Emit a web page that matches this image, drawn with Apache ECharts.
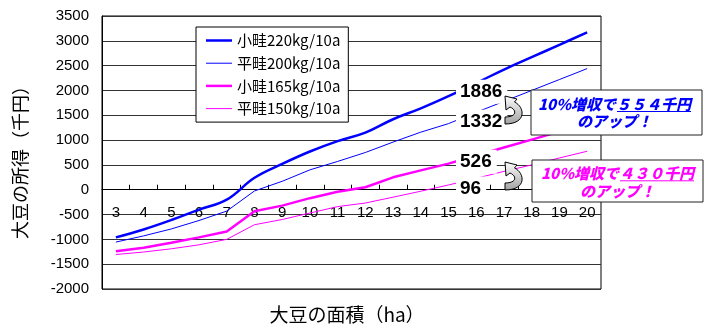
<!DOCTYPE html>
<html><head><meta charset="utf-8">
<script src="https://cdn.jsdelivr.net/npm/echarts@6/dist/echarts.min.js"></script>
<style>html,body{margin:0;padding:0;background:#fff}#c{width:709px;height:326px}</style>
</head><body><div id="c"></div>
<script>
// ---- data ----
const categories = ['3','4','5','6','7','8','9','10','11','12','13','14','15','16','17','18','19','20'];
const seriesNames = ['小畦220kg/10a','平畦200kg/10a','小畦165kg/10a','平畦150kg/10a'];
const ridge220 = [-960,-800,-610,-400,-200,240,520,770,980,1150,1420,1640,1886,2150,2420,2670,2920,3170];
const flat200  = [-1055,-930,-790,-620,-430,-25,170,400,570,750,960,1160,1332,1560,1780,2000,2220,2440];
const ridge165 = [-1240,-1170,-1070,-960,-840,-435,-320,-170,-40,50,250,390,526,690,850,1010,1170,1330];
const flat150  = [-1305,-1255,-1190,-1110,-1000,-705,-600,-470,-340,-268,-150,-30,96,230,370,500,640,775];
const yMin = -2000, yMax = 3500, yStep = 500;
const valueLabels = ['1886','1332','526','96'];
const callouts = [
  {pre:'10%増収で', amt:'５５４千円', line2:'のアップ！'},
  {pre:'10%増収で', amt:'４３０千円', line2:'のアップ！'}
];
const yTitle = '大豆の所得（千円）';
const xTitle = '大豆の面積（ha）';

// ---- layout ----
const GRID = {left:102, right:108, top:16, bottom:37};
const H = 326;
const plotH = H - GRID.top - GRID.bottom;
const zeroOffset = -(yMin / (yMax - yMin)) * plotH; // distance from bottom edge up to value 0

const BLUE = '#0000FF', PINK = '#FF00FF';
const cv = document.createElement('canvas').getContext('2d');
function tw(t, font){ cv.font = font; return cv.measureText(t).width; }
function bez(p0,p1,p2,p3,n){
  const out=[];
  for(let i=1;i<=n;i++){const t=i/n,u=1-t;
    out.push([u*u*u*p0[0]+3*u*u*t*p1[0]+3*u*t*t*p2[0]+t*t*t*p3[0],
              u*u*u*p0[1]+3*u*u*t*p1[1]+3*u*t*t*p2[1]+t*t*t*p3[1]]);}
  return out;
}
function arrowPoints(ox,oy){
  let pts=[[1,3],[13,6],[10.5,9]];
  pts=pts.concat(bez([10.5,9],[21,14],[23,31],[1,31],16));
  pts.push([1,24]);
  pts=pts.concat(bez([1,24],[13,24],[13,17],[6,14],12));
  pts.push([2,17]);
  return pts.map(p=>[p[0]+ox,p[1]+oy]);
}

const chart = echarts.init(document.getElementById('c'), null, {renderer:'canvas'});

const graphics = [];
graphics.push({type:'text', x:20, y:158, rotation:Math.PI/2, z:100,
  style:{text:yTitle, font:'18px "Noto Sans CJK JP"', fill:'#000', textAlign:'center', textVerticalAlign:'middle'}});
graphics.push({type:'text', x:347, y:315, z:100,
  style:{text:xTitle, font:'19px "Noto Sans CJK JP"', fill:'#000', textAlign:'center', textVerticalAlign:'middle'}});

const labY = [91.7, 121.7, 161.7, 188.5];
valueLabels.forEach((t,i)=>{
  graphics.push({type:'text', x:456, y:labY[i], z:100,
    style:{text:t, font:'bold 19px "Liberation Sans"', fill:'#000', textAlign:'left', textVerticalAlign:'middle',
      backgroundColor:'#fff', padding:[3,5,2,4]}});
});

[[504,93],[504,159]].forEach(p=>{
  graphics.push({type:'polygon', z:100,
    shape:{points:arrowPoints(p[0],p[1])},
    style:{fill:{type:'linear',x:0,y:0,x2:0,y2:1,colorStops:[{offset:0,color:'#ffffff'},{offset:1,color:'#a0a0a0'}]},
      stroke:'#000', lineWidth:1}});
});

const boxes = [
  {x:531, y:90, w:171, h:45, color:BLUE, cx:614.5, l1:104, l2:121.7},
  {x:532, y:160, w:171, h:42, color:PINK, cx:617.5, l1:173.3, l2:191.5}
];
const cFont = 'italic 900 15px "Noto Sans CJK JP"';
boxes.forEach((b,i)=>{
  const c = callouts[i];
  graphics.push({type:'rect', z:100, shape:{x:b.x, y:b.y, width:b.w, height:b.h},
    style:{fill:'#fff', stroke:'#222', lineWidth:1}});
  const w1 = tw(c.pre, cFont), w2 = tw(c.amt, cFont);
  const sx = b.cx - (w1+w2)/2 + w1;
  graphics.push({type:'text', z:101, x:sx, y:b.l1,
    style:{text:c.pre, font:cFont, fill:b.color, textAlign:'right', textVerticalAlign:'middle'}});
  graphics.push({type:'text', z:101, x:sx, y:b.l1,
    style:{text:c.amt, font:cFont, fill:b.color, textAlign:'left', textVerticalAlign:'middle'}});
  graphics.push({type:'line', z:101, shape:{x1:sx+1, y1:b.l1+7.5, x2:sx+w2, y2:b.l1+7.5},
    style:{stroke:b.color, lineWidth:1}});
  graphics.push({type:'text', z:101, x:b.cx, y:b.l2,
    style:{text:c.line2, font:cFont, fill:b.color, textAlign:'center', textVerticalAlign:'middle'}});
});

function mkSeries(name, data, color, width, smooth){
  return {name, type:'line', data, symbol:'none', showSymbol:false, smooth, z:3,
    lineStyle:{color, width}, itemStyle:{color}};
}
const lineWidths = [2.5, 1, 2.5, 1];

chart.setOption({
  animation:false,
  backgroundColor:'#fff',
  grid:{left:GRID.left, right:GRID.right, top:GRID.top, bottom:GRID.bottom, show:true, borderColor:'#000', borderWidth:1, backgroundColor:'transparent'},
  legend:{
    orient:'vertical', left:196, top:27, itemWidth:26, itemHeight:14, itemGap:7.7,
    padding:[6,8,6,10], backgroundColor:'#fff', borderColor:'#000', borderWidth:1, z:50,
    symbolKeepAspect:true,
    textStyle:{fontSize:15, fontFamily:'"Noto Sans CJK JP"', color:'#000', lineHeight:14},
    data:seriesNames.map((n,i)=>({name:n, icon:'path://M0,0H26V'+lineWidths[i]+'H0Z'}))
  },
  xAxis:{
    type:'category', data:categories, boundaryGap:true, position:'bottom', offset:-zeroOffset,
    axisLine:{onZero:false, lineStyle:{color:'#000', width:1}},
    axisTick:{show:true, inside:true, length:5, alignWithLabel:false, lineStyle:{color:'#000'}},
    axisLabel:{margin:16, fontSize:15, fontFamily:'"Liberation Sans"', color:'#000', interval:0},
    splitLine:{show:false}
  },
  yAxis:{
    type:'value', min:yMin, max:yMax, interval:yStep,
    axisLine:{show:true, lineStyle:{color:'#000'}},
    axisTick:{show:false},
    axisLabel:{margin:13, fontSize:15, fontFamily:'"Liberation Sans"', color:'#000', formatter:v=>String(v)},
    splitLine:{show:true, lineStyle:{color:'#333', width:1}}
  },
  series:[
    mkSeries(seriesNames[0], ridge220, BLUE, lineWidths[0], 0.4),
    mkSeries(seriesNames[1], flat200, BLUE, lineWidths[1], false),
    mkSeries(seriesNames[2], ridge165, PINK, lineWidths[2], false),
    mkSeries(seriesNames[3], flat150, PINK, lineWidths[3], false)
  ],
  graphic:{elements:graphics}
});
</script></body></html>
